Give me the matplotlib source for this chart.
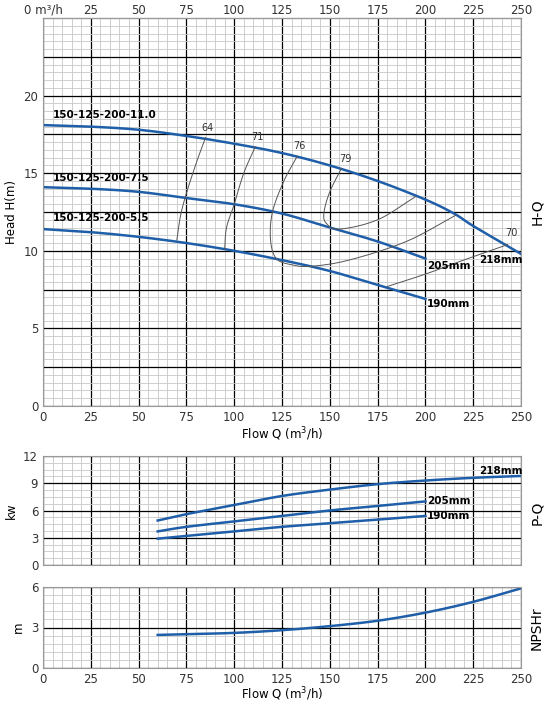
import numpy as np
import matplotlib
matplotlib.use("Agg")
import matplotlib.pyplot as plt
from matplotlib.ticker import MultipleLocator, FixedLocator

q_h = [0, 25, 50, 75, 100, 125, 150, 175, 200, 215, 225, 250]
h_218 = [18.1, 18.0, 17.8, 17.4, 16.9, 16.3, 15.5, 14.5, 13.3, 12.4, 11.6, 9.8]
q_h2 = [0, 25, 50, 75, 100, 125, 150, 175, 200]
h_205 = [14.1, 14.0, 13.8, 13.4, 13.0, 12.4, 11.5, 10.6, 9.5]
h_190 = [11.4, 11.2, 10.9, 10.5, 10.0, 9.4, 8.7, 7.8, 6.9]

eff = {
    "64": ([70, 72, 75, 80, 85], [10.7, 12.3, 13.7, 15.6, 17.3], (86, 17.6)),
    "71": ([95, 96, 100, 105, 111], [10.1, 11.5, 13.0, 15.0, 16.7], (112, 17.0)),
    "76": ([133, 126, 120, 119, 122, 130, 140, 160, 190, 216],
           [16.1, 14.5, 12.5, 10.7, 9.5, 9.1, 9.0, 9.4, 10.6, 12.3], (134, 16.4)),
    "79": ([156, 150, 147, 148, 155, 175, 195],
           [15.3, 13.8, 12.5, 11.8, 11.4, 12.0, 13.5], (158, 15.6)),
    "70": ([180, 200, 220, 243], [7.7, 8.5, 9.4, 10.4], (245, 10.8)),
}

q_p = [60, 75, 100, 125, 150, 175, 200, 225, 250]
p_218 = [4.9, 5.6, 6.6, 7.6, 8.3, 8.9, 9.3, 9.6, 9.8]
q_p2 = [60, 75, 100, 125, 150, 175, 200]
p_205 = [3.7, 4.2, 4.8, 5.4, 6.0, 6.5, 7.0]
p_190 = [2.9, 3.2, 3.7, 4.2, 4.6, 5.0, 5.4]
npsh = [2.45, 2.5, 2.6, 2.8, 3.1, 3.5, 4.1, 4.9, 5.9]

def smooth(x, y, n=20):
    p = np.column_stack([x, y]).astype(float)
    p = np.vstack([2*p[0]-p[1], p, 2*p[-1]-p[-2]])
    out = []
    t = np.linspace(0, 1, n, endpoint=False)[:, None]
    for i in range(1, len(p)-2):
        p0, p1, p2, p3 = p[i-1], p[i], p[i+1], p[i+2]
        out.append(0.5*((2*p1) + (-p0+p2)*t + (2*p0-5*p1+4*p2-p3)*t**2 + (-p0+3*p1-3*p2+p3)*t**3))
    out.append(p[-2][None, :])
    o = np.vstack(out)
    return o[:, 0], o[:, 1]

BLUE = "#1f5ea8"
fig = plt.figure(figsize=(5.5, 7.04), dpi=100)
L, W = 43/550, (521-43)/550
ax1 = fig.add_axes([L, 1-406/704, W, (406-18)/704])
ax2 = fig.add_axes([L, 1-565/704, W, (565-456)/704])
ax3 = fig.add_axes([L, 1-668/704, W, (668-587)/704])

def minors(lo, hi, step, maj):
    v = np.arange(lo, hi + step/2, step)
    return [x for x in v if abs(x/maj - round(x/maj)) > 1e-6]

def grid(ax, ymax, ymaj, ymin):
    ax.set_xlim(0, 250)
    ax.set_ylim(0, ymax)
    ax.xaxis.set_major_locator(MultipleLocator(25))
    ax.xaxis.set_minor_locator(FixedLocator(minors(0, 250, 5, 25)))
    ax.yaxis.set_major_locator(MultipleLocator(ymaj))
    ax.yaxis.set_minor_locator(FixedLocator(minors(0, ymax, ymin, ymaj)))
    ax.grid(which="minor", color="#c8c8c8", lw=0.6)
    ax.grid(which="major", color="black", lw=0.9)
    ax.tick_params(which="both", length=0, labelsize=8.5, colors="#333333")
    for s in ax.spines.values():
        s.set_color("#999999")
    ax.set_axisbelow(True)

grid(ax1, 25, 2.5, 0.5)
ax1.set_yticks([0, 2.5, 5, 7.5, 10, 12.5, 15, 17.5, 20, 22.5])
ax1.set_yticklabels(["0", "", "5", "", "10", "", "15", "", "20", ""])
ax1.set_ylabel("Head H(m)", fontsize=8.5)
ax1.set_xlabel("Flow Q (m$^3$/h)", fontsize=8.5, labelpad=1)
top = ax1.secondary_xaxis("top")
top.set_xticks(range(0, 251, 25))
top.set_xticklabels(["0 m³/h"] + [str(v) for v in range(25, 251, 25)])
top.tick_params(length=0, labelsize=8.5, colors="#333333", pad=1)

for (x, y) in [(q_h, h_218), (q_h2, h_205), (q_h2, h_190)]:
    ax1.plot(*smooth(x, y), color=BLUE, lw=1.8)
for k, (x, y, (lx, ly)) in eff.items():
    ax1.plot(*smooth(x, y), color="#555555", lw=0.7)
    ax1.text(lx, ly, k, fontsize=7, color="#333333", ha="center", va="bottom")
for t, y in [("150-125-200-11.0", 18.4), ("150-125-200-7.5", 14.4), ("150-125-200-5.5", 11.8)]:
    ax1.text(5, y, t, fontsize=7.5, fontweight="bold", va="bottom")
ax1.text(201, 9.0, "205mm", fontsize=7.5, fontweight="bold", va="center")
ax1.text(201, 6.6, "190mm", fontsize=7.5, fontweight="bold", va="center")
ax1.text(228, 9.4, "218mm", fontsize=7.5, fontweight="bold", va="center")
fig.text(537/550, 1-212/704, "H-Q", rotation=90, fontsize=10, va="center", ha="center")

grid(ax2, 12, 3, 0.75)
ax2.set_ylabel("kw", fontsize=8.5)
ax2.set_xticklabels([])
for x, y in [(q_p, p_218), (q_p2, p_205), (q_p2, p_190)]:
    ax2.plot(*smooth(x, y), color=BLUE, lw=1.8)
ax2.text(228, 10.3, "218mm", fontsize=7.5, fontweight="bold", va="center")
ax2.text(201, 7.0, "205mm", fontsize=7.5, fontweight="bold", va="center")
ax2.text(201, 5.4, "190mm", fontsize=7.5, fontweight="bold", va="center")
fig.text(537/550, 1-513/704, "P-Q", rotation=90, fontsize=10, va="center", ha="center")

grid(ax3, 6, 3, 0.6)
ax3.set_ylabel("m", fontsize=8.5)
ax3.set_xlabel("Flow Q (m$^3$/h)", fontsize=8.5, labelpad=0)
ax3.plot(*smooth(q_p, npsh), color=BLUE, lw=1.8)
fig.text(537/550, 1-628/704, "NPSHr", rotation=90, fontsize=10, va="center", ha="center")

fig.savefig("out.png", dpi=100)
